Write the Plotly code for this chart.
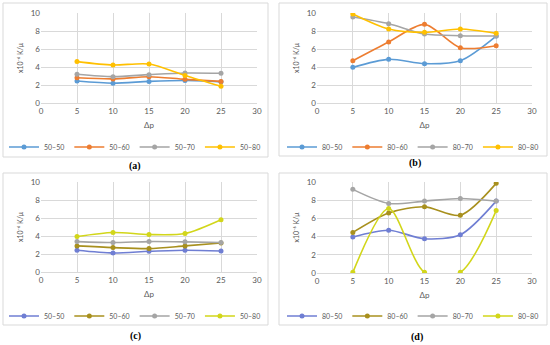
import plotly.graph_objects as go

W, H = 550, 345

dp = [5, 10, 15, 20, 25]

# Panel (a)
a_names = ["50–50", "50–60", "50–70", "50–80"]
a_50_50 = [2.44, 2.2, 2.4, 2.5, 2.35]
a_50_60 = [2.8, 2.68, 2.92, 2.63, 2.4]
a_50_70 = [3.2, 2.93, 3.15, 3.33, 3.3]
a_50_80 = [4.6, 4.22, 4.33, 3.05, 1.85]

# Panel (b)
b_names = ["80–50", "80–60", "80–70", "80–80"]
b_80_50 = [3.96, 4.85, 4.37, 4.7, 7.44]
b_80_60 = [4.7, 6.78, 8.74, 6.15, 6.37]
b_80_70 = [9.55, 8.81, 7.67, 7.48, 7.44]
b_80_80 = [9.89, 8.22, 7.85, 8.22, 7.74]

# Panel (c)
c_names = ["50–50", "50–60", "50–70", "50–80"]
c_50_50 = [2.42, 2.12, 2.3, 2.42, 2.34]
c_50_60 = [2.9, 2.71, 2.6, 2.9, 3.23]
c_50_70 = [3.38, 3.27, 3.38, 3.35, 3.27]
c_50_80 = [3.94, 4.39, 4.16, 4.27, 5.8]

# Panel (d)
d_names = ["80–50", "80–60", "80–70", "80–80"]
d_80_50 = [3.95, 4.69, 3.76, 4.2, 7.9]
d_80_60 = [4.46, 6.6, 7.27, 6.35, 9.85]
d_80_70 = [9.19, 7.64, 7.9, 8.19, 7.9]
d_80_80 = [0.07, 7.08, 0.07, 0.07, 6.86]

col_top = ["#5B9BD5", "#ED7D31", "#A5A5A5", "#FFC000"]
col_bot = ["#6F7ED3", "#A8901E", "#A5A5A5", "#D2D61A"]

panels = [
    ("a", a_names, [a_50_50, a_50_60, a_50_70, a_50_80], col_top),
    ("b", b_names, [b_80_50, b_80_60, b_80_70, b_80_80], col_top),
    ("c", c_names, [c_50_50, c_50_60, c_50_70, c_50_80], col_bot),
    ("d", d_names, [d_80_50, d_80_60, d_80_70, d_80_80], col_bot),
]

def px(x):
    return x / W

def py(y):
    return 1 - y / H

plot_x = [(41, 257), (317, 532), (41, 257), (317, 532)]
plot_y = [(13, 103), (13, 103), (182, 272), (182, 273)]
boxes = [(3, 3, 268, 157), (279, 3, 547, 156), (3, 173, 268, 325), (279, 173, 547, 325)]
legend_pos = [(135, 147), (413, 147), (135, 316), (413, 316)]
label_pos = [(135, 166), (415, 163), (135, 336), (417, 337)]

FONT = "Lato, Liberation Sans, sans-serif"
fig = go.Figure()

layout = dict(
    width=W, height=H,
    margin=dict(l=0, r=0, t=0, b=0, autoexpand=False),
    paper_bgcolor="white", plot_bgcolor="white",
    font=dict(family=FONT, size=8, color="#595959"),
    shapes=[], annotations=[],
)

for i, (lab, names, series, cols) in enumerate(panels):
    n = i + 1
    xa = "x" if n == 1 else f"x{n}"
    ya = "y" if n == 1 else f"y{n}"
    lg = "legend" if n == 1 else f"legend{n}"
    for name, vals, c in zip(names, series, cols):
        fig.add_trace(go.Scatter(
            x=dp, y=vals, name=name, mode="lines+markers",
            line=dict(color=c, width=1.6, shape="spline", smoothing=0.8),
            marker=dict(color=c, size=5),
            xaxis=xa, yaxis=ya, legend=lg,
        ))
    x0, x1 = plot_x[i]
    y0, y1 = plot_y[i]
    layout["xaxis" if n == 1 else f"xaxis{n}"] = dict(
        domain=[px(x0), px(x1)], anchor=ya, range=[0, 30], dtick=5,
        showgrid=True, gridcolor="#D9D9D9", gridwidth=1, zeroline=False,
        showline=True, linecolor="#D9D9D9", ticks="",
        tickfont=dict(size=8, color="#595959"),
        title=dict(text="Δp", font=dict(size=8, color="#595959"), standoff=7),
        fixedrange=True,
    )
    layout["yaxis" if n == 1 else f"yaxis{n}"] = dict(
        domain=[py(y1), py(y0)], anchor=xa, range=[0, 10], dtick=2,
        showgrid=True, gridcolor="#D9D9D9", gridwidth=1, zeroline=False,
        showline=False, ticks="",
        tickfont=dict(size=8, color="#595959"),
        title=dict(text="x10⁻⁶ K/μ", font=dict(size=7, color="#595959"), standoff=6),
        fixedrange=True,
    )
    lx, ly = legend_pos[i]
    layout[lg] = dict(
        orientation="h", x=px(lx), y=py(ly), xanchor="center", yanchor="middle",
        font=dict(size=7, color="#595959"), itemwidth=30,
        bgcolor="rgba(0,0,0,0)", tracegroupgap=0,
    )
    bx0, by0, bx1, by1 = boxes[i]
    layout["shapes"].append(dict(
        type="rect", xref="paper", yref="paper",
        x0=px(bx0), x1=px(bx1), y0=py(by1), y1=py(by0),
        line=dict(color="#D9D9D9", width=1), fillcolor="rgba(0,0,0,0)", layer="below",
    ))
    tx, ty = label_pos[i]
    layout["annotations"].append(dict(
        text=f"<b>({lab})</b>", xref="paper", yref="paper", x=px(tx), y=py(ty),
        xanchor="center", yanchor="middle", showarrow=False,
        font=dict(family="Liberation Serif, serif", size=10, color="#000000"),
    ))

fig.update_layout(**layout)
fig.write_html(
    "out.html",
    config={"displayModeBar": False},
    post_script="document.body.style.margin='0';document.body.style.overflow='hidden';",
)
